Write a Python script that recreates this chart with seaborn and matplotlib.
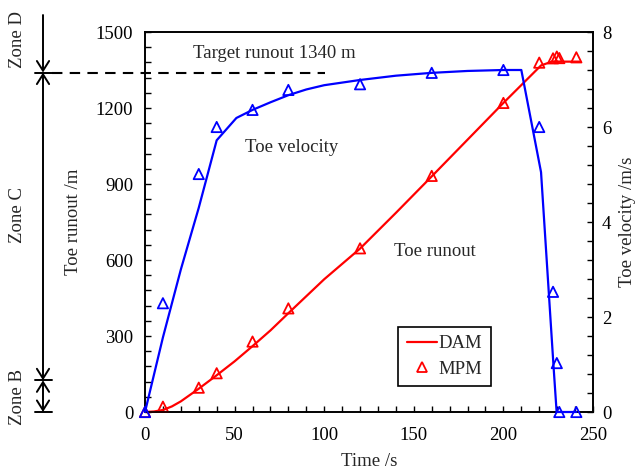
import matplotlib
matplotlib.use("Agg")
import matplotlib.pyplot as plt
import seaborn as sns
import pandas as pd
from matplotlib.lines import Line2D
from matplotlib.ticker import MultipleLocator

# ---------------- data ----------------
dam_run_t = [0, 5, 10, 15, 20, 30, 40, 50, 60, 70, 80, 90, 100, 120, 140, 160, 180, 200, 221, 227, 243]
dam_run_y = [0, 2, 8, 22, 42, 92, 145, 200, 260, 322, 390, 457, 524, 645, 786, 930, 1075, 1220, 1368, 1383, 1383]

dam_vel_t = [0, 10, 20, 30, 40, 51, 60, 70, 80, 90, 100, 120, 140, 160, 180, 200, 210, 221, 228, 229.7, 240.7]
dam_vel_v = [0, 1.57, 3.0, 4.3, 5.72, 6.19, 6.36, 6.52, 6.67, 6.79, 6.88, 6.99, 7.08, 7.14, 7.18, 7.2, 7.2, 5.05, 0.95, 0, 0]

mpm_t = [0, 10, 30, 40, 60, 80, 120, 160, 200, 220, 227.7, 229.8, 231.2, 240.7]
mpm_run = [0, 21, 96, 153, 278, 409, 646, 932, 1220, 1379, 1396, 1403, 1397, 1400]
mpm_vel = [0, 2.29, 5.01, 6.0, 6.36, 6.78, 6.9, 7.14, 7.2, 6.0, 2.53, 1.03, 0, 0]

target_runout = 1340
zone_bounds = [0, 125, 1340, 1567]
zone_names = ["Zone B", "Zone C", "Zone D"]

# ---------------- style ----------------
sns.set_style("ticks")
plt.rcParams["font.family"] = ["Liberation Serif", "DejaVu Serif"]
FS = 13.5
RED = "#ff0000"
BLUE = "#0000ff"

fig = plt.figure(figsize=(6.39, 4.69), dpi=100)
ax = fig.add_axes([145/639, 1 - 412/469, 448/639, 380/469])
ax2 = ax.twinx()

run_df = pd.DataFrame({"t": dam_run_t, "y": dam_run_y})
vel_df = pd.DataFrame({"t": dam_vel_t, "v": dam_vel_v})
mpm_df = pd.DataFrame({"t": mpm_t, "run": mpm_run, "vel": mpm_vel})

sns.lineplot(data=run_df, x="t", y="y", ax=ax, color=RED, lw=1.6, sort=False,
             estimator=None, legend=False, clip_on=False, zorder=3)
sns.lineplot(data=vel_df, x="t", y="v", ax=ax2, color=BLUE, lw=1.6, sort=False,
             estimator=None, legend=False, clip_on=False, zorder=3)
sns.scatterplot(data=mpm_df, x="t", y="run", ax=ax, marker="^", s=55,
                facecolor="none", edgecolor=RED, linewidth=1.3, legend=False,
                clip_on=False, zorder=4)
sns.scatterplot(data=mpm_df, x="t", y="vel", ax=ax2, marker="^", s=55,
                facecolor="none", edgecolor=BLUE, linewidth=1.3, legend=False,
                clip_on=False, zorder=4)

# axes limits and ticks
ax.set_xlim(0, 250)
ax.set_ylim(0, 1500)
ax2.set_ylim(0, 8)
ax.xaxis.set_major_locator(MultipleLocator(50))
ax.xaxis.set_minor_locator(MultipleLocator(10))
ax.yaxis.set_major_locator(MultipleLocator(300))
ax.yaxis.set_minor_locator(MultipleLocator(60))
ax2.yaxis.set_major_locator(MultipleLocator(2))
ax2.yaxis.set_minor_locator(MultipleLocator(0.4))
for a in (ax, ax2):
    a.tick_params(which="both", direction="in", length=4, width=1, labelsize=FS,
                  color="black", labelcolor="black")
    for s in a.spines.values():
        s.set_visible(True)
        s.set_linewidth(1.2)
        s.set_color("black")
ax.tick_params(axis="y", which="both", right=False, pad=8.5)
ax.tick_params(axis="x", which="both", top=False, pad=11)
ax2.tick_params(axis="y", which="both", left=False, right=True, pad=6.5)

ax.set_xlabel("Time /s", fontsize=FS)
ax.set_ylabel("Toe runout /m", fontsize=FS)
ax2.set_ylabel("Toe velocity /m/s", fontsize=FS)
ax.xaxis.set_label_coords(0.5, -0.107)
ax.yaxis.set_label_coords(-0.140, 0.5)
ax2.yaxis.set_label_coords(1.057, 0.5)

# annotations inside
ax.text(27, 1417, "Target runout 1340 m", fontsize=FS, va="center", ha="left")
ax.text(82, 1046, "Toe velocity", fontsize=FS, va="center", ha="center")
ax.text(162, 632, "Toe runout", fontsize=FS, va="center", ha="center")

# dashed target line
ax.plot([-51.9, 100.4], [target_runout, target_runout], color="black", lw=1.5,
        dashes=(5, 3.5), clip_on=False, zorder=5)

# zone arrows on the left
trans = ax.get_yaxis_transform()
xa = (43 - 145) / 448
xb0 = (35 - 145) / 448
xb1 = (52 - 145) / 448
arrow_kw = dict(color="black", lw=1.4, shrinkA=0, shrinkB=0, mutation_scale=20)
ax.annotate("", xy=(xa, zone_bounds[2]), xytext=(xa, zone_bounds[3]),
            xycoords=trans, textcoords=trans, annotation_clip=False,
            arrowprops=dict(arrowstyle="->,head_length=0.35,head_width=0.22", **arrow_kw))
ax.annotate("", xy=(xa, zone_bounds[1]), xytext=(xa, zone_bounds[2]),
            xycoords=trans, textcoords=trans, annotation_clip=False,
            arrowprops=dict(arrowstyle="<->,head_length=0.35,head_width=0.22", **arrow_kw))
ax.annotate("", xy=(xa, zone_bounds[0]), xytext=(xa, zone_bounds[1]),
            xycoords=trans, textcoords=trans, annotation_clip=False,
            arrowprops=dict(arrowstyle="<->,head_length=0.35,head_width=0.22", **arrow_kw))
for yb in zone_bounds[:3]:
    ax.plot([xb0, xb1], [yb, yb], color="black", lw=1.4, transform=trans, clip_on=False)

zone_label_y = [(412 - 397) / 0.2533, (412 - 215) / 0.2533, (412 - 40) / 0.2533]
xl = (18 - 145) / 448
for name, yl in zip(zone_names, zone_label_y):
    ax.text(xl, yl, name, rotation=90, fontsize=FS, ha="center", va="center",
            transform=trans, clip_on=False)

# legend
handles = [Line2D([0], [0], color=RED, lw=1.6),
           Line2D([0], [0], color=RED, lw=0, marker="^", markersize=7.5,
                  markerfacecolor="none", markeredgewidth=1.3)]
leg = ax.legend(handles, ["DAM", "MPM"], loc="upper left",
                bbox_to_anchor=(0.565, 0.224), borderaxespad=0, fontsize=FS,
                frameon=True, fancybox=False, framealpha=1, edgecolor="black",
                handlelength=1.6, handletextpad=0.1, labelspacing=0.45,
                borderpad=0.45)
leg.get_frame().set_linewidth(1.2)
leg.set_zorder(10)

fig.savefig("out.png", dpi=100)
